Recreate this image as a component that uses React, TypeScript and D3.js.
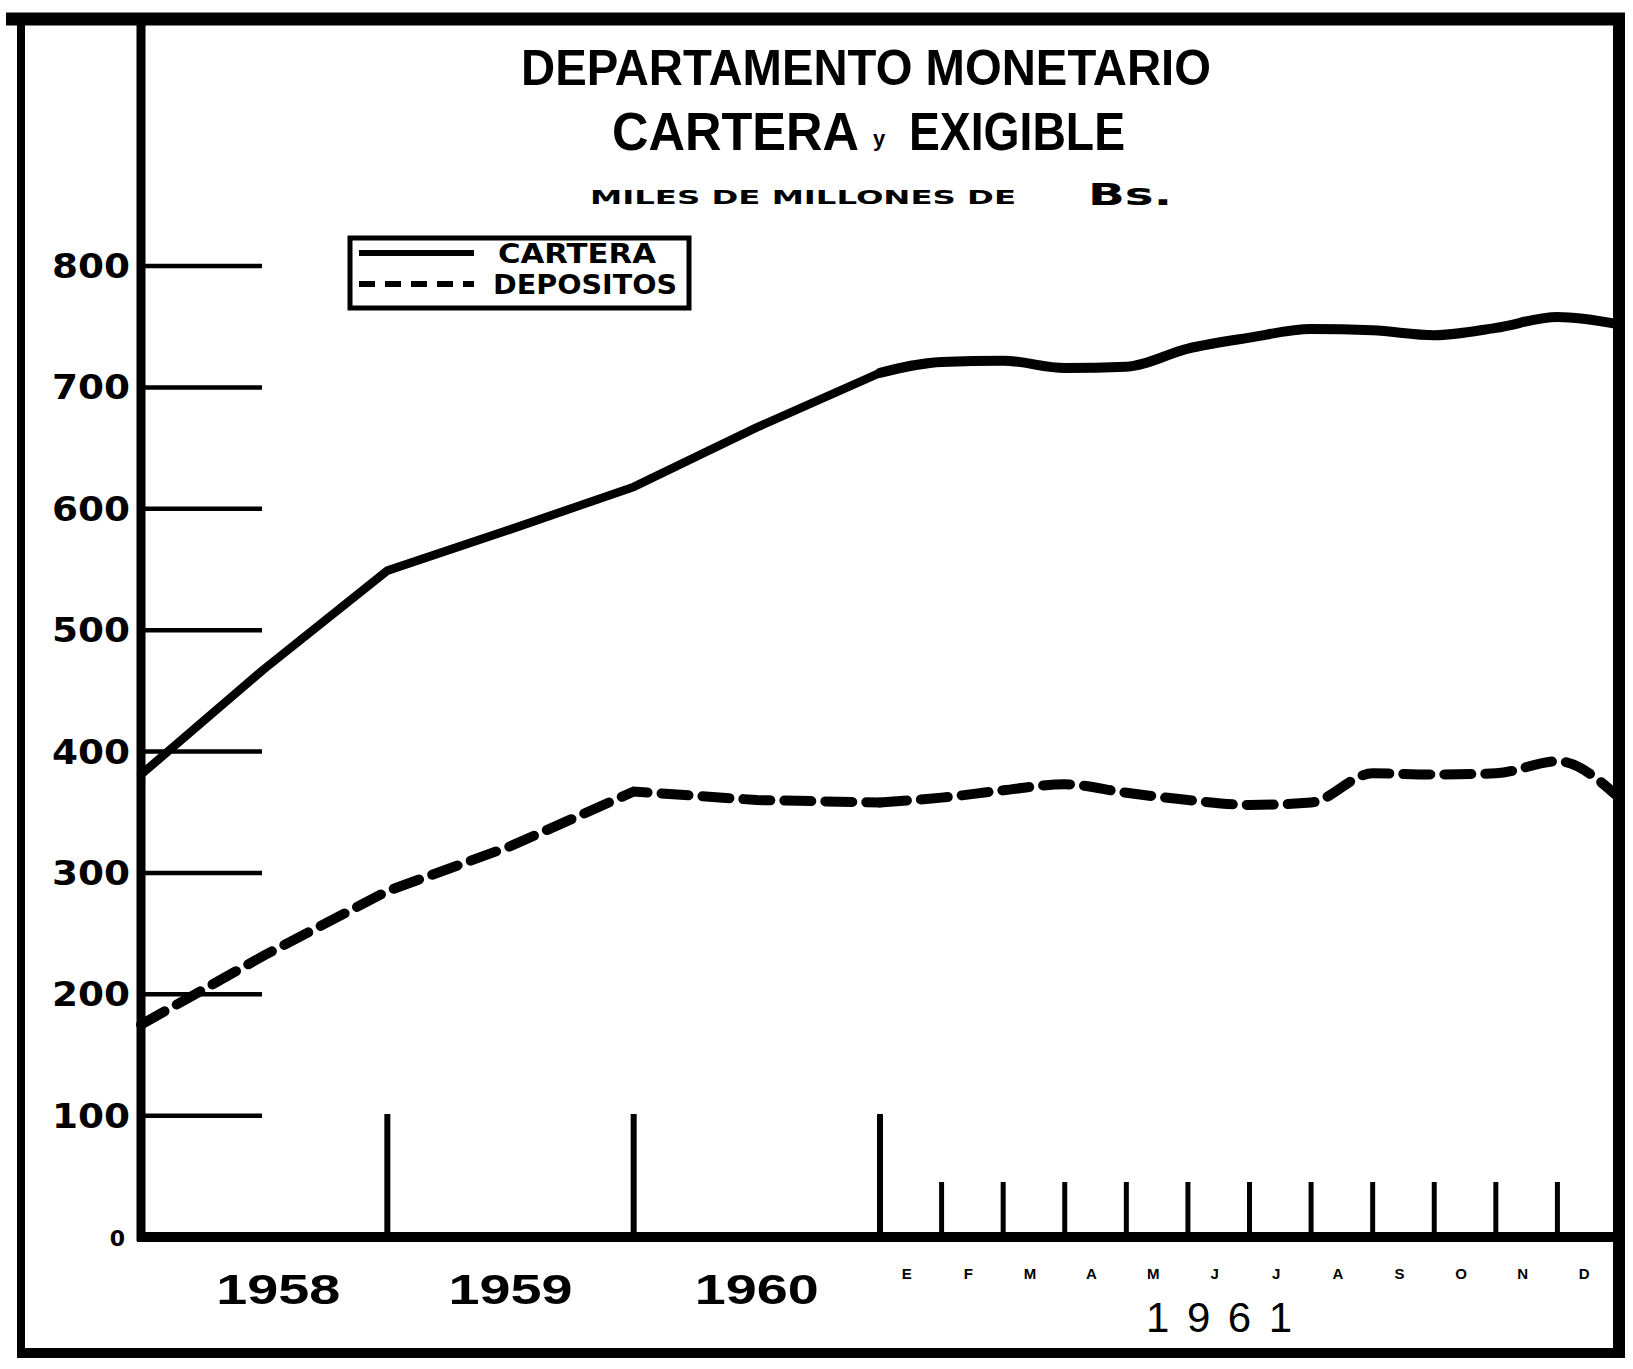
import React from "react";
import * as d3 from "d3";

// ---------- data ----------
const yTicks = [100, 200, 300, 400, 500, 600, 700, 800];
const yearLabels = ["1958", "1959", "1960"];
const monthLabels = ["E", "F", "M", "A", "M", "J", "J", "A", "S", "O", "N", "D"];
const yearLabel1961 = "1961";

// positions: 0 = start 1958, 1 = end 1958, 2 = end 1959, 3 = end 1960 (half-year readings)
const annualPos = [0, 0.5, 1, 1.5, 2, 2.5, 3];
const carteraAnnual = [381, 468, 549, 583, 618, 667, 712];
const depositosAnnual = [175, 232, 285, 322, 367, 360, 358];

// 1961, value at end of each month (position 3 + month index + 1)
const carteraMonthly = [721, 722, 716, 717, 732, 741, 748, 747, 743, 749, 758, 752];
const depositosMonthly = [362, 368, 373, 366, 360, 356, 358, 382, 381, 382, 392, 362];

const legendItems = ["CARTERA", "DEPOSITOS"];

const titleLine1 = "DEPARTAMENTO MONETARIO";
const titleLine2a = "CARTERA";
const titleLine2y = "y";
const titleLine2b = "EXIGIBLE";
const subtitleA = "MILES DE MILLONES DE";
const subtitleB = "Bs.";

// ---------- layout ----------
const W = 1633;
const H = 1369;
const x = d3.scaleLinear().domain([0, 3, 15]).range([141, 880, 1619]);
const y = d3.scaleLinear().domain([0, 800]).range([1237, 266]);

const condensed = "'Liberation Sans Narrow', 'Liberation Sans', Arial, sans-serif";
const plainSans = "'Liberation Sans', Arial, sans-serif";
const heavy = "'DejaVu Sans', 'Liberation Sans', sans-serif";

export default function App() {
  const lineLin = d3
    .line<[number, number]>()
    .x((d) => x(d[0]))
    .y((d) => y(d[1]))
    .curve(d3.curveLinear);
  const lineSmooth = d3
    .line<[number, number]>()
    .x((d) => x(d[0]))
    .y((d) => y(d[1]))
    .curve(d3.curveMonotoneX);

  const mk = (annual: number[], monthly: number[]) => {
    const a: [number, number][] = annualPos.map((p, i) => [p, annual[i]]);
    const m: [number, number][] = [[3, annual[annual.length - 1]]];
    monthly.forEach((v, i) => m.push([4 + i, v]));
    return [lineLin(a) || "", lineSmooth(m) || ""];
  };
  const cartera = mk(carteraAnnual, carteraMonthly);
  const depositos = mk(depositosAnnual, depositosMonthly);

  return (
    <svg
      width={W}
      height={H}
      viewBox={`0 0 ${W} ${H}`}
      style={{ position: "absolute", left: 0, top: 0, background: "#fff" }}
    >
      <rect x={0} y={0} width={W} height={H} fill="#fff" />

      {/* outer frame */}
      <line x1={6} y1={19} x2={1625} y2={19} stroke="#000" strokeWidth={13} />
      <line x1={21} y1={19} x2={21} y2={1356} stroke="#000" strokeWidth={8} />
      <line x1={1619} y1={19} x2={1619} y2={1358} stroke="#000" strokeWidth={12} />
      <line x1={17} y1={1353} x2={1625} y2={1353} stroke="#000" strokeWidth={10} />

      {/* title */}
      <text
        x={866}
        y={85}
        textAnchor="middle"
        fontFamily={condensed}
        fontSize={50}
        fontWeight={700}
        textLength={690}
        lengthAdjust="spacingAndGlyphs"
      >
        {titleLine1}
      </text>
      <text x={612} y={150} fontFamily={condensed} fontSize={54} fontWeight={700} textLength={247} lengthAdjust="spacingAndGlyphs">
        {titleLine2a}
      </text>
      <text x={873} y={146} fontFamily={condensed} fontSize={22} fontWeight={700}>
        {titleLine2y}
      </text>
      <text x={909} y={150} fontFamily={condensed} fontSize={54} fontWeight={700} textLength={216} lengthAdjust="spacingAndGlyphs">
        {titleLine2b}
      </text>
      <text x={590} y={204} fontFamily={heavy} fontSize={20} fontWeight={900} textLength={426} lengthAdjust="spacingAndGlyphs">
        {subtitleA}
      </text>
      <text x={1088} y={205} fontFamily={heavy} fontSize={31} fontWeight={900} textLength={84} lengthAdjust="spacingAndGlyphs">
        {subtitleB}
      </text>

      {/* y axis */}
      <line x1={141} y1={22} x2={141} y2={1241} stroke="#000" strokeWidth={9} />
      {yTicks.map((t) => (
        <g key={t}>
          <line x1={141} y1={y(t)} x2={262} y2={y(t)} stroke="#000" strokeWidth={4.5} />
          <text
            x={130}
            y={y(t) + 12}
            textAnchor="end"
            fontFamily={heavy}
            fontWeight={700}
            fontSize={34}
            textLength={78}
            lengthAdjust="spacingAndGlyphs"
          >
            {t}
          </text>
        </g>
      ))}
      <text x={125} y={y(0) + 9} textAnchor="end" fontFamily={heavy} fontWeight={700} fontSize={22}>
        0
      </text>

      {/* x axis */}
      <line x1={137} y1={y(0)} x2={1619} y2={y(0)} stroke="#000" strokeWidth={10} />
      {[1, 2, 3].map((p) => (
        <line key={p} x1={x(p)} y1={y(0)} x2={x(p)} y2={1114} stroke="#000" strokeWidth={6} />
      ))}
      {monthLabels.slice(0, 11).map((_, i) => (
        <line key={i} x1={x(4 + i)} y1={y(0)} x2={x(4 + i)} y2={1182} stroke="#000" strokeWidth={5} />
      ))}
      {yearLabels.map((lab, i) => (
        <text
          key={lab}
          x={x(i + 0.5) + (i === 0 ? 14 : 0)}
          y={1304}
          textAnchor="middle"
          fontFamily={plainSans}
          fontWeight={700}
          fontSize={42}
          textLength={124}
          lengthAdjust="spacingAndGlyphs"
        >
          {lab}
        </text>
      ))}
      {monthLabels.map((m, i) => (
        <text
          key={i}
          x={x(3 + i + 0.5) - 4}
          y={1279}
          textAnchor="middle"
          fontFamily={plainSans}
          fontWeight={700}
          fontSize={15}
        >
          {m}
        </text>
      ))}
      <text
        x={1219}
        y={1332}
        textAnchor="middle"
        fontFamily={plainSans}
        fontSize={42}
        textLength={146}
        lengthAdjust="spacing"
      >
        {yearLabel1961}
      </text>

      {/* series */}
      {cartera.map((d, i) => (
        <path key={i} d={d} fill="none" stroke="#000" strokeWidth={i === 0 ? 8.5 : 10} strokeLinejoin="round" strokeLinecap="round" />
      ))}
      {depositos.map((d, i) => (
        <path
          key={i}
          d={d}
          fill="none"
          stroke="#000"
          strokeWidth={10}
          strokeDasharray="27 14"
          strokeLinecap="round"
        />
      ))}

      {/* legend */}
      <rect x={350} y={238} width={339} height={70} fill="#fff" stroke="#000" strokeWidth={5} />
      <line x1={359} y1={253} x2={474} y2={253} stroke="#000" strokeWidth={6} />
      <line x1={359} y1={284} x2={474} y2={284} stroke="#000" strokeWidth={6} strokeDasharray="16 10" />
      <text x={498} y={263} fontFamily={heavy} fontWeight={700} fontSize={26} textLength={158} lengthAdjust="spacingAndGlyphs">
        {legendItems[0]}
      </text>
      <text x={493} y={294} fontFamily={heavy} fontWeight={700} fontSize={26} textLength={184} lengthAdjust="spacingAndGlyphs">
        {legendItems[1]}
      </text>
    </svg>
  );
}
